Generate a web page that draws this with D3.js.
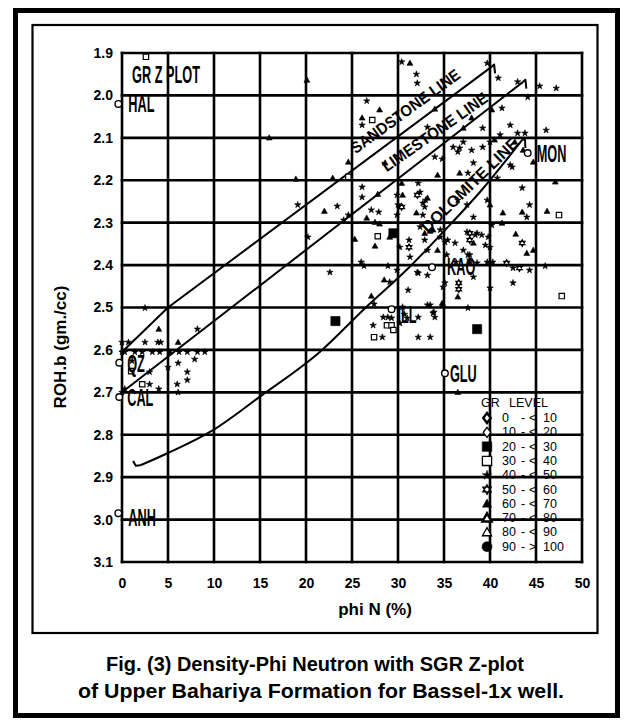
<!DOCTYPE html>
<html>
<head>
<meta charset="utf-8">
<script src="https://cdn.jsdelivr.net/npm/d3@7"></script>
<style>
  body { margin: 0; background: #fff; }
  svg { display: block; }
  text { font-family: "Liberation Sans", Arial, Helvetica, sans-serif; }
</style>
</head>
<body>
<svg id="chart" width="629" height="721"></svg>
<script>
// ---- axes -------------------------------------------------------------
const xTicks = [0, 5, 10, 15, 20, 25, 30, 35, 40, 45, 50];
const yTicks = [1.9, 2.0, 2.1, 2.2, 2.3, 2.4, 2.5, 2.6, 2.7, 2.8, 2.9, 3.0, 3.1];

// ---- lithology reference lines (phi N %, bulk density g/cc) ----------
const sandstonePhi = [0, 5, 40.2];
const sandstoneRho = [2.605, 2.5, 1.932];
const limestonePhi = [0, 43.6];
const limestoneRho = [2.70, 1.968];
const dolomitePhi = [2.0, 5, 9.9, 15, 21.5, 26.5, 31, 35, 39.1, 43.5];
const dolomiteRho = [2.872, 2.843, 2.789, 2.71, 2.605, 2.5, 2.41, 2.32, 2.223, 2.105];

// ---- mineral points --------------------------------------------------
const mineralNames = ["HAL", "QZ", "CAL", "ANH", "MON", "KAO", "ILL", "GLU"];
const mineralPhi   = [-0.4, -0.3, -0.3, -0.4, 44.1, 33.7, 29.3, 35.1];
const mineralRho   = [2.02, 2.63, 2.711, 2.985, 2.136, 2.405, 2.504, 2.655];

// ---- GR level classes ------------------------------------------------
const levelLow  = [0, 10, 20, 30, 40, 50, 60, 70, 80, 90];
const levelHigh = [10, 20, 30, 40, 50, 60, 70, 80, 90, 100];
const levelOp   = ["<", "<", "<", "<", "<", "<", "<", "<", "<", ">"];

// ---- log samples: neutron porosity, bulk density, GR level class -----
const phiN = [
  2.6,20.1,30.4,31.3,32.0,32.1,39.7,40.9,43.0,44.1,45.4,47.2,
  26.6,28.0,26.1,27.2,26.1,16.0,24.6,18.9,22.9,24.6,28.6,
  41.3,40.2,38.0,33.2,37.1,39.2,42.2,46.1,41.1,43.0,43.8,34.0,
  40.0,36.0,36.7,37.1,36.5,38.0,38.2,34.8,39.2,40.5,42.7,43.6,
  42.2,34.0,34.3,32.2,37.6,36.7,42.4,43.5,44.7,47.1,40.8,26.1,30.4,32.4,27.8,
  19.1,22.0,23.4,24.6,24.1,26.1,27.1,27.9,26.6,27.5,28.0,29.9,30.5,30.0,30.4,29.9,
  20.2,25.3,27.8,29.5,27.5,30.2,31.2,26.0,26.3,22.6,28.9,28.5,29.1,31.1,27.1,27.4,
  23.2,28.4,28.9,29.3,30.5,30.7,31.0,27.3,28.8,29.3,29.5,30.2,27.4,28.3,
  32.1,33.0,32.9,32.0,32.7,32.4,33.5,33.8,32.9,34.6,34.6,35.1,36.2,37.1,37.8,
  29.1,31.2,32.9,33.2,34.3,35.4,35.3,29.9,31.3,32.2,33.2,33.2,33.5,33.9,34.0,
  35.1,34.9,36.3,36.6,36.6,36.5,37.6,38.2,37.8,38.6,38.6,37.8,39.1,39.8,40.0,40.3,
  38.2,40.2,39.7,40.0,41.4,41.3,41.8,42.5,40.0,43.5,44.0,44.3,42.8,43.5,44.0,44.7,
  43.2,42.5,44.3,46.0,46.2,47.5,47.8,36.5,32.7,33.2,36.5,37.5,37.5,38.4,37.8,38.2,
  39.5,37.6,37.8,39.7,32.1,34.9,34.8,32.2,33.8,32.2,33.5,38.6,
  2.5,4.0,8.2,0.0,0.7,2.5,3.9,4.2,6.1,
  0.0,0.3,1.4,2.2,3.3,4.1,5.2,6.2,7.1,8.2,9.0,
  6.1,7.9,7.1,7.1,5.0,3.0,1.0,1.1,6.0,3.0,4.0,6.1,2.2,0.3,0.0
];
const rhoB = [
  1.909,1.964,1.921,1.924,1.950,1.971,1.924,1.959,1.968,2.004,1.978,1.983,
  2.013,2.034,2.053,2.058,2.070,2.100,2.157,2.197,2.195,2.192,2.159,
  2.030,2.034,2.053,2.075,2.077,2.077,2.070,2.082,2.093,2.089,2.089,2.032,
  2.110,2.122,2.124,2.110,2.133,2.129,2.159,2.150,2.122,2.105,2.110,2.129,
  2.164,2.145,2.188,2.207,2.183,2.183,2.169,2.218,2.157,2.204,2.195,2.216,2.207,2.228,2.233,
  2.258,2.273,2.261,2.282,2.294,2.240,2.270,2.275,2.289,2.299,2.303,2.235,2.235,2.258,2.263,2.282,
  2.334,2.339,2.332,2.325,2.355,2.358,2.341,2.393,2.402,2.417,2.402,2.435,2.440,2.459,2.473,2.492,
  2.532,2.523,2.523,2.525,2.499,2.516,2.525,2.542,2.542,2.542,2.553,2.537,2.570,2.570,
  2.235,2.247,2.263,2.277,2.282,2.310,2.320,2.317,2.325,2.317,2.334,2.346,2.348,2.365,2.376,
  2.334,2.358,2.341,2.365,2.365,2.341,2.376,2.412,2.381,2.419,2.424,2.494,2.494,2.511,2.523,
  2.442,2.494,2.393,2.442,2.457,2.475,2.501,2.428,2.395,2.395,2.325,2.325,2.329,2.334,2.358,2.393,
  2.287,2.306,2.247,2.258,2.277,2.301,2.395,2.442,2.454,2.275,2.287,2.258,2.327,2.348,2.372,2.365,
  2.407,2.407,2.412,2.402,2.273,2.282,2.473,2.700,2.254,2.242,2.247,2.258,2.322,2.329,2.341,2.348,
  2.353,2.376,2.388,2.393,2.417,2.452,2.490,2.523,2.513,2.570,2.570,2.551,
  2.501,2.551,2.551,2.582,2.582,2.582,2.582,2.582,2.582,
  2.605,2.605,2.605,2.605,2.605,2.605,2.605,2.605,2.605,2.605,2.605,
  2.631,2.622,2.652,2.671,2.641,2.652,2.650,2.626,2.681,2.681,2.692,2.700,2.681,2.692,2.700
];
const grLevel = [
  3,6,4,6,4,4,4,4,4,4,4,4,
  4,6,6,3,4,6,6,6,6,3,6,
  4,6,6,4,6,4,4,4,4,4,4,6,
  4,4,4,4,4,4,4,4,4,6,6,6,
  4,4,6,4,4,6,4,4,6,6,4,4,6,4,6,
  4,6,4,4,4,4,4,4,6,6,6,4,6,4,5,4,
  4,6,3,2,6,4,4,4,4,4,4,6,4,4,6,4,
  2,4,4,4,4,4,4,4,3,3,3,4,3,4,
  5,4,4,6,4,4,6,6,6,4,4,4,4,4,4,
  6,5,4,4,6,4,4,4,4,4,4,4,4,4,4,
  4,6,4,5,5,6,4,4,6,4,4,5,4,4,4,4,
  4,4,4,6,6,6,5,4,4,6,4,4,6,5,6,6,
  5,4,4,4,6,3,3,6,4,6,4,4,4,4,5,6,
  4,4,4,4,4,4,6,4,4,4,4,2,
  4,6,4,4,4,4,4,4,6,
  4,4,4,4,4,4,6,4,4,4,4,
  4,4,4,4,4,4,3,4,4,4,4,4,3,4,4
];

// ---- drawing ---------------------------------------------------------
const svg = d3.select("#chart");
svg.append("rect").attr("width", 629).attr("height", 721).attr("fill", "#fff");

// double frame
svg.append("rect").attr("x", 15.5).attr("y", 10.5).attr("width", 602).attr("height", 705)
  .attr("fill", "none").attr("stroke", "#000").attr("stroke-width", 5);
svg.append("rect").attr("x", 32.5).attr("y", 25).attr("width", 565).attr("height", 608)
  .attr("fill", "none").attr("stroke", "#000").attr("stroke-width", 2.2);

const x = d3.scaleLinear().domain([0, 50]).range([122, 582]);
const y = d3.scaleLinear().domain([1.9, 3.1]).range([53, 562]);

// grid
const grid = svg.append("g").attr("stroke", "#000").attr("stroke-width", 2.6);
grid.selectAll("line.v").data(xTicks).join("line").attr("class", "v")
  .attr("x1", d => x(d)).attr("x2", d => x(d))
  .attr("y1", y(1.9) - 1.3).attr("y2", y(3.1) + 1.3);
grid.selectAll("line.h").data(yTicks).join("line").attr("class", "h")
  .attr("y1", d => y(d)).attr("y2", d => y(d))
  .attr("x1", x(0) - 1.3).attr("x2", x(50) + 1.3);

// axes labels
const yAxis = svg.append("g").attr("transform", `translate(${x(0)},0)`)
  .call(d3.axisLeft(y).tickValues(yTicks).tickFormat(d3.format(".1f")).tickSize(0).tickPadding(9));
const xAxis = svg.append("g").attr("transform", `translate(0,${y(3.1)})`)
  .call(d3.axisBottom(x).tickValues(xTicks).tickFormat(d3.format("d")).tickSize(0).tickPadding(16));
[yAxis, xAxis].forEach(a => {
  a.select(".domain").remove();
  a.selectAll("text").attr("font-family", "Liberation Sans, Arial, sans-serif")
    .attr("font-size", 14).attr("font-weight", "bold").attr("fill", "#000");
});

// axis titles
svg.append("text").attr("transform", "translate(66,347) rotate(-90)")
  .attr("text-anchor", "middle").attr("font-size", 17).attr("font-weight", "bold")
  .text("ROH.b (gm./cc)");
svg.append("text").attr("x", 375).attr("y", 615)
  .attr("text-anchor", "middle").attr("font-size", 17).attr("font-weight", "bold")
  .text("phi N (%)");

// lithology lines
const line = d3.line().x(d => x(d[0])).y(d => y(d[1]));
const lines = svg.append("g").attr("fill", "none").attr("stroke", "#000").attr("stroke-width", 2)
  .attr("stroke-linejoin", "round");
lines.append("path").attr("d", line(sandstonePhi.map((p, i) => [p, sandstoneRho[i]])));
lines.append("path").attr("d", line(limestonePhi.map((p, i) => [p, limestoneRho[i]])));
lines.append("path").attr("d", line.curve(d3.curveMonotoneX)(dolomitePhi.map((p, i) => [p, dolomiteRho[i]])));
line.curve(d3.curveLinear);
// end hooks of the drawn lines
const hooks = [
  [[40.2, 1.932], [40.45, 1.927], [40.55, 1.948]],
  [[43.6, 1.968], [43.85, 1.963], [43.95, 1.984]],
  [[43.5, 2.105], [43.8, 2.103], [43.85, 2.124]],
  [[2.0, 2.872], [1.5, 2.873], [1.2, 2.862]]
];
hooks.forEach(h => lines.append("path").attr("d", line(h)));

// line labels
const lineLabels = [
  { text: "SANDSTONE LINE", phi: 30.8, rho: 2.037, angle: -36, len: 131 },
  { text: "LIMESTONE LINE", phi: 34.0, rho: 2.086, angle: -35, len: 125 },
  { text: "DOLOMITE LINE",  phi: 37.8, rho: 2.211, angle: -44, len: 128 }
];
svg.append("g").selectAll("text").data(lineLabels).join("text")
  .attr("transform", d => `translate(${x(d.phi)},${y(d.rho)}) rotate(${d.angle})`)
  .attr("text-anchor", "middle").attr("dy", "0.35em")
  .attr("font-size", 16).attr("font-weight", "bold")
  .attr("textLength", d => d.len).attr("lengthAdjust", "spacingAndGlyphs")
  .text(d => d.text);

// marker shapes for GR level classes
function markPath(level, r) {
  switch (level) {
    case 0: case 1:
      return `M0,${-r}L${r * 0.75},0L0,${r}L${-r * 0.75},0Z`;
    case 2: case 3:
      return `M${-r},${-r}h${2 * r}v${2 * r}h${-2 * r}Z`;
    case 4:
      return d3.symbol(d3.symbolStar, r * r / 0.8908130915)();
    case 5: {
      const a = r, b = r * 0.866;
      return `M0,${-a}L${b},${a / 2}L${-b},${a / 2}Z M0,${a}L${b},${-a / 2}L${-b},${-a / 2}Z`;
    }
    case 6: case 7: case 8:
      return `M0,${-r}L${r * 0.95},${r * 0.7}L${-r * 0.95},${r * 0.7}Z`;
    default:
      return d3.symbol(d3.symbolCircle, Math.PI * r * r)();
  }
}
function markStyle(sel, level) {
  const filled = [2, 4, 6, 9].includes(level);
  sel.attr("fill", filled ? "#000" : "#fff").attr("stroke", "#000")
    .attr("stroke-width", level === 0 || level === 7 ? 2 : (filled ? 0.6 : 1.2))
    .attr("stroke-linejoin", "miter");
}
const dataRadius = [3, 3, 4.6, 2.7, 3.4, 3.3, 3.1, 3.1, 3.1, 3.2];

const pts = svg.append("g");
d3.range(phiN.length).forEach(i => {
  const lv = grLevel[i];
  pts.append("path")
    .attr("transform", `translate(${x(phiN[i])},${y(rhoB[i])})`)
    .attr("d", markPath(lv, dataRadius[lv]))
    .call(markStyle, lv);
});

// mineral points and labels
const labelOffset = { HAL: [10, 8], QZ: [8, 9], CAL: [8, 9], ANH: [10, 13],
                      MON: [9, 9], KAO: [15, 8], ILL: [6, 14], GLU: [5, 9] };
const minG = svg.append("g");
mineralNames.forEach((n, i) => {
  const cx = x(mineralPhi[i]), cy = y(mineralRho[i]);
  minG.append("circle").attr("cx", cx).attr("cy", cy).attr("r", 3.3)
    .attr("fill", "#fff").attr("stroke", "#000").attr("stroke-width", 1.4);
  const [dx, dy] = labelOffset[n];
  minG.append("text")
    .attr("transform", `translate(${cx + dx},${cy + dy}) scale(0.53,1)`)
    .attr("font-size", 24).attr("font-weight", "bold").text(n);
});
svg.append("text")
  .attr("transform", `translate(${x(1.1)},${y(1.97)}) scale(0.53,1)`)
  .attr("font-size", 24).attr("font-weight", "bold").text("GR Z PLOT");

// legend
const leg = svg.append("g").attr("font-size", 12.5).attr("fill", "#000");
leg.append("text").attr("x", 481).attr("y", 407).text("GR");
leg.append("text").attr("x", 509).attr("y", 407).text("LEVEL");
const legendRadius = [5, 5, 4.8, 4.6, 5, 4.8, 4.8, 4.8, 4.8, 5];
levelLow.forEach((lo, i) => {
  const ry = 422 + i * 14.3;
  leg.append("path").attr("transform", `translate(487,${ry - 4})`)
    .attr("d", markPath(i, legendRadius[i])).call(markStyle, i)
    .attr("stroke-width", i === 0 || i === 7 ? 2.4 : (i === 4 || i === 6 || i === 2 || i === 9 ? 0.5 : 1.3));
  leg.append("text").attr("x", 502).attr("y", ry).text(lo);
  leg.append("text").attr("x", 521).attr("y", ry).text("-");
  leg.append("text").attr("x", 529).attr("y", ry).text(levelOp[i]);
  leg.append("text").attr("x", 543).attr("y", ry).text(levelHigh[i]);
});

// caption
svg.append("text").attr("x", 315).attr("y", 671).attr("text-anchor", "middle")
  .attr("font-size", 21).attr("font-weight", "bold")
  .attr("textLength", 418).attr("lengthAdjust", "spacingAndGlyphs")
  .text("Fig. (3) Density-Phi Neutron with SGR Z-plot");
svg.append("text").attr("x", 321).attr("y", 698).attr("text-anchor", "middle")
  .attr("font-size", 21).attr("font-weight", "bold")
  .attr("textLength", 486).attr("lengthAdjust", "spacingAndGlyphs")
  .text("of Upper Bahariya Formation for Bassel-1x well.");
</script>
</body>
</html>
